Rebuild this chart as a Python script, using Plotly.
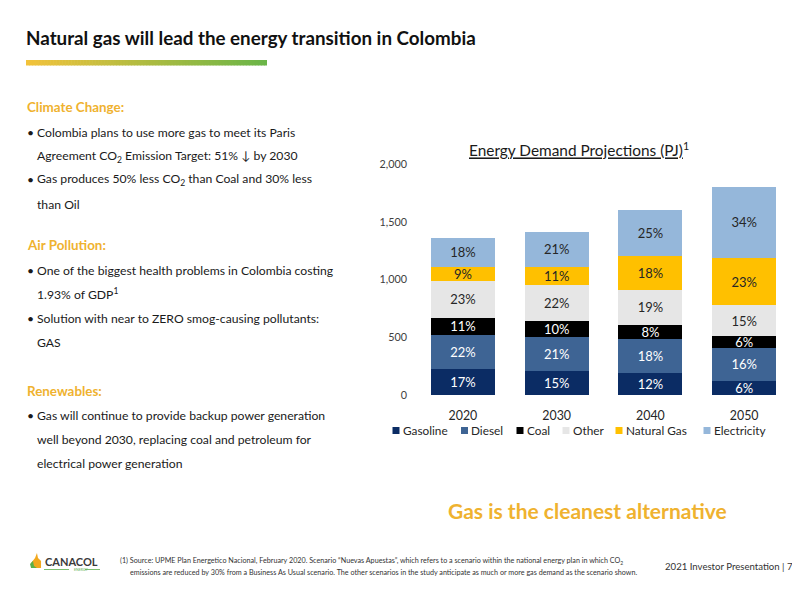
import plotly.graph_objects as go

W, H = 800, 600

# ---------------- data ----------------
years = ["2020", "2030", "2040", "2050"]
gasoline = [224, 212, 195, 126]
diesel = [300, 293, 288, 284]
coal = [148, 138, 129, 99]
other = [319, 310, 302, 272]
natural_gas = [121, 159, 287, 405]
electricity = [250, 302, 400, 618]

gasoline_pct = ["17%", "15%", "12%", "6%"]
diesel_pct = ["22%", "21%", "18%", "16%"]
coal_pct = ["11%", "10%", "8%", "6%"]
other_pct = ["23%", "22%", "19%", "15%"]
natural_gas_pct = ["9%", "11%", "18%", "23%"]
electricity_pct = ["18%", "21%", "25%", "34%"]

series_names = ["Gasoline", "Diesel", "Coal", "Other", "Natural Gas", "Electricity"]
y_ticks = [0, 500, 1000, 1500, 2000]

# ---------------- styles / layout ----------------
FONT = "Lato"
ORANGE = "#EFB22F"
DARK = "#1A1A1A"
colors = ["#0B2C64", "#3E6494", "#000000", "#E6E6E6", "#FFC000", "#95B7DA"]
text_colors = ["white", "white", "white", "#262626", "#262626", "#262626"]
legend_square_x = [392.5, 461, 516.5, 562.5, 615.5, 703.5]  # px, left edge of legend squares
LEGEND_Y = 430.5
OFF = 8  # page body margin offset in the browser


def px(x):
    return (x - OFF) / W


def py(y):
    return 1 - (y - OFF) / H


values = [gasoline, diesel, coal, other, natural_gas, electricity]
labels = [gasoline_pct, diesel_pct, coal_pct, other_pct, natural_gas_pct, electricity_pct]

fig = go.Figure()
for name, vals, lab, color, tcolor in zip(series_names, values, labels, colors, text_colors):
    fig.add_trace(go.Bar(
        x=years, y=vals, name=name, text=lab,
        textposition="inside", insidetextanchor="middle",
        textfont=dict(family=FONT, size=13, color=tcolor),
        marker=dict(color=color, line=dict(width=0)),
        hoverinfo="skip", showlegend=False,
    ))

annotations = []


def txt(x, y, s, size, color=DARK, anchor="left", bold=False, pad=1):
    if bold:
        s = "<b>" + s + "</b>"
    annotations.append(dict(
        x=px(x), y=py(y), xref="paper", yref="paper", text=s,
        showarrow=False, xanchor=anchor, yanchor="middle", borderpad=pad,
        font=dict(family=FONT, size=size, color=color),
    ))


BODY = 12.2
HEAD = 13.4


def bullet(y, s):
    txt(25, y, "•", BODY)
    txt(35, y, s, BODY)


# title
txt(24, 37, "Natural gas will lead the energy transition in Colombia", 18.8, "#111111", bold=True)

# left column
txt(25, 107, "Climate Change:", HEAD, ORANGE, bold=True)
bullet(132, "Colombia plans to use more gas to meet its Paris")
txt(35, 156, "Agreement CO<sub>2</sub> Emission Target: 51% ↓ by 2030", BODY)
bullet(180, "Gas produces 50% less CO<sub>2</sub> than Coal and 30% less")
txt(35, 204, "than Oil", BODY)

txt(25, 245, "Air Pollution:", HEAD, ORANGE, bold=True)
bullet(270, "One of the biggest health problems in Colombia costing")
txt(35, 294, "1.93% of GDP<sup>1</sup>", BODY)
bullet(318, "Solution with near to ZERO smog-causing pollutants:")
txt(35, 342, "GAS", BODY)

txt(25, 391, "Renewables:", HEAD, ORANGE, bold=True)
bullet(415, "Gas will continue to provide backup power generation")
txt(35, 439, "well beyond 2030, replacing coal and petroleum for", BODY)
txt(35, 463, "electrical power generation", BODY)

# chart title
txt(579, 149, "<u>Energy Demand Projections (PJ)</u><sup>1</sup>", 15.4, "#1A1A1A", anchor="center")

# bottom slogan
txt(587, 510, "Gas is the cleanest alternative", 21, ORANGE, anchor="center", bold=True)

# footer
txt(118, 561, "(1) Source: UPME Plan Energetico Nacional, February 2020. Scenario \u201cNuevas Apuestas\u201d, which refers to a scenario within the national energy plan in which CO<sub>2</sub>", 7.2, "#333333")
txt(128, 572, "emissions are reduced by 30% from a Business As Usual scenario. The other scenarios in the study anticipate as much or more gas demand as the scenario shown.", 7.2, "#333333")
txt(795, 566, "2021 Investor Presentation | 7", 9.6, "#333333", anchor="right")

# logo text
txt(43, 561, "CANACOL", 11, "#3A3A3A", bold=True)
txt(72, 569.5, "ENERGY", 3.5, "#5BAF4A")

shapes = []

# custom legend
for name, color, lx in zip(series_names, colors, legend_square_x):
    shapes.append(dict(type="rect", xref="paper", yref="paper",
                       x0=px(lx), x1=px(lx + 7), y0=py(LEGEND_Y + 3.5), y1=py(LEGEND_Y - 3.5),
                       fillcolor=color, line=dict(width=0)))
    txt(lx + 9, LEGEND_Y, name, 11.8, "#262626", pad=0)

# gradient bar under title
c0 = (242, 194, 58)
c1 = (106, 181, 72)
N = 80
x0, x1 = 26, 267
for i in range(N):
    t = i / (N - 1)
    c = tuple(int(round(c0[k] + (c1[k] - c0[k]) * t)) for k in range(3))
    xa = x0 + (x1 - x0) * i / N
    xb = x0 + (x1 - x0) * (i + 1) / N + 0.6
    shapes.append(dict(type="rect", xref="paper", yref="paper",
                       x0=px(xa), x1=px(min(xb, x1)), y0=py(65.5), y1=py(60),
                       fillcolor="rgb(%d,%d,%d)" % c, line=dict(width=0), layer="above"))


def path(points):
    return "M " + " L ".join("%.4f,%.4f" % (px(a), py(b)) for a, b in points) + " Z"


# logo flame
shapes.append(dict(type="path", xref="paper", yref="paper",
                   path=path([(33, 568), (31, 563), (35, 558), (37, 553), (38, 558), (41, 561), (41, 568)]),
                   fillcolor="#F2A81D", line=dict(width=0)))
shapes.append(dict(type="path", xref="paper", yref="paper",
                   path=path([(31, 568), (30, 564), (33, 561), (34, 566), (37, 568)]),
                   fillcolor="#5BAF4A", line=dict(width=0)))
shapes.append(dict(type="line", xref="paper", yref="paper",
                   x0=px(44), x1=px(69), y0=py(569.5), y1=py(569.5),
                   line=dict(color="#5BAF4A", width=0.8)))
shapes.append(dict(type="line", xref="paper", yref="paper",
                   x0=px(85), x1=px(100), y0=py(569.5), y1=py(569.5),
                   line=dict(color="#5BAF4A", width=0.8)))

fig.update_layout(
    width=W, height=H,
    margin=dict(l=0, r=0, t=0, b=0, autoexpand=False),
    paper_bgcolor="white", plot_bgcolor="white",
    barmode="stack", bargap=0.317,
    showlegend=False,
    uniformtext=dict(minsize=13, mode="show"),
    xaxis=dict(domain=[px(416), px(791)], type="category", showgrid=False, showline=False,
               ticks="", tickfont=dict(family=FONT, size=12.4, color="#262626"),
               ticklabelstandoff=11, fixedrange=True, automargin=False),
    yaxis=dict(domain=[py(395.3), py(164)], range=[0, 2000], tickvals=y_ticks,
               tickformat=",", showgrid=False, showline=False, zeroline=False, ticks="",
               tickfont=dict(family=FONT, size=10.8, color="#404040"),
               ticklabelstandoff=8, fixedrange=True, automargin=False),
    annotations=annotations,
    shapes=shapes,
    font=dict(family=FONT),
)

fig.write_html("out.html")
